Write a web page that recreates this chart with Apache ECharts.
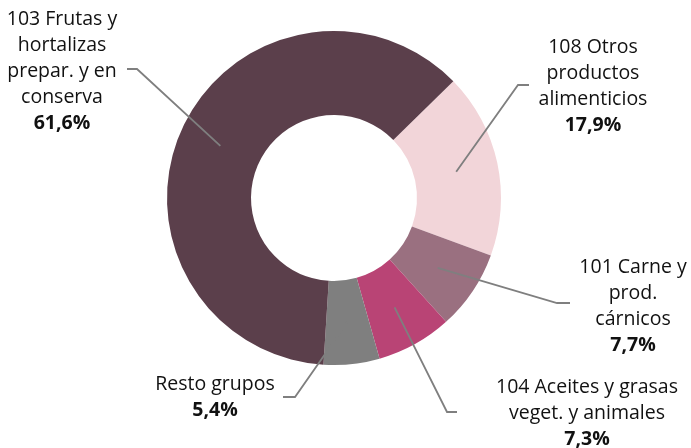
<!DOCTYPE html>
<html><head><meta charset="utf-8">
<script src="https://cdn.jsdelivr.net/npm/echarts@6/dist/echarts.min.js"></script>
<style>html,body{margin:0;padding:0;background:#fff}#c{width:691px;height:448px}</style>
</head><body><div id="c"></div>
<script>
// Data (clockwise order starting at the upper-right boundary)
const categories = [
  '108 Otros\nproductos\nalimenticios',
  '101 Carne y\nprod.\ncárnicos',
  '104 Aceites y grasas\nveget. y animales',
  'Resto grupos',
  '103 Frutas y\nhortalizas\nprepar. y en\nconserva'
];
const shares = [17.9, 7.7, 7.3, 5.4, 61.6];

// Styles / layout
const colors = ['#F2D5D9', '#9A7080', '#B94475', '#7F7F7F', '#5B3F4B'];
const CX = 334, CY = 198, R0 = 83, R1 = 167, START = 44.4;
const labelBoxes = [
  {x: 593, y: 86,  lineY: 85,  elbowX: 518, endX: 529},
  {x: 633, y: 306, lineY: 303, elbowX: 557, endX: 570},
  {x: 587, y: 413, lineY: 412, elbowX: 447, endX: 457},
  {x: 215, y: 397, lineY: 397, elbowX: 295, endX: 283},
  {x: 62,  y: 71,  lineY: 69,  elbowX: 137, endX: 127}
];

const total = shares.reduce((a, b) => a + b, 0);
function midDir(i) {
  let cum = 0;
  for (let k = 0; k < i; k++) cum += shares[k];
  const frac = (cum + shares[i] / 2) / total;
  const a = ((90 - START) + frac * 360) * Math.PI / 180;
  return [Math.sin(a), -Math.cos(a)];
}

const chart = echarts.init(document.getElementById('c'), null, {renderer: 'canvas'});
const txt = {fontFamily: 'Open Sans', fontSize: 19.5, lineHeight: 26, color: '#111', align: 'center'};
const pieData = categories.map((n, i) => ({name: n, value: shares[i], itemStyle: {color: colors[i]}}));
chart.setOption({
  animation: false,
  series: [{
    type: 'pie',
    z: 2,
    center: [CX, CY],
    radius: [R0, R1],
    startAngle: START,
    clockwise: true,
    emphasis: {disabled: true},
    silent: true,
    label: {show: false},
    labelLine: {show: false},
    data: pieData
  }, {
    type: 'pie',
    z: 5,
    center: [CX, CY],
    radius: [R0, R1],
    startAngle: START,
    clockwise: true,
    avoidLabelOverlap: false,
    emphasis: {disabled: true},
    silent: true,
    itemStyle: {color: 'rgba(0,0,0,0)', opacity: 1},
    data: categories.map((n, i) => ({name: n, value: shares[i], itemStyle: {color: 'rgba(0,0,0,0)'}})),
    label: {
      show: true,
      position: 'outside',
      color: '#111',
      formatter: p => p.name.split('\n').map(s => '{n|' + s + '}').join('\n') +
        '\n{p|' + p.value.toFixed(1).replace('.', ',') + '%}',
      rich: {
        n: Object.assign({}, txt),
        p: Object.assign({}, txt, {fontWeight: 'bold'})
      }
    },
    labelLine: {show: true, length: 10, length2: 10, lineStyle: {color: '#7f7f7f', width: 1.8}},
    labelLayout: function (params) {
      const i = params.dataIndex;
      const b = labelBoxes[i];
      const d = midDir(i);
      const rm = (R0 + R1) / 2;
      const start = [CX + d[0] * rm, CY + d[1] * rm];
      return {
        x: b.x, y: b.y, align: 'center', verticalAlign: 'middle',
        labelLinePoints: [start, [b.elbowX, b.lineY], [b.endX, b.lineY]]
      };
    }
  }]
});
</script>
</body></html>
